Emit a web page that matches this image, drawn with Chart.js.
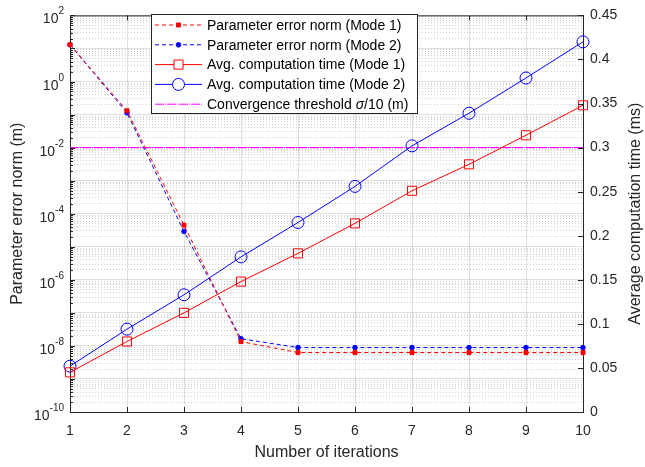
<!DOCTYPE html>
<html>
<head>
<meta charset="utf-8">
<script src="https://cdn.jsdelivr.net/npm/chart.js@4/dist/chart.umd.min.js"></script>
<style>
  body { margin: 0; background: #fff; }
  #wrap { width: 645px; height: 467px; }
</style>
</head>
<body>
<div id="wrap"><canvas id="chart-1"></canvas></div>
<script>
// data
const iterations = [1, 2, 3, 4, 5, 6, 7, 8, 9, 10];
const errMode1 = [13, 0.13, 4.5e-5, 1.35e-8, 6.3e-9, 6.3e-9, 6.3e-9, 6.3e-9, 6.3e-9, 6.3e-9];
const errMode2 = [13, 0.113, 2.9e-5, 1.65e-8, 8.9e-9, 8.9e-9, 8.9e-9, 8.9e-9, 8.9e-9, 8.9e-9];
const timeMode1 = [0.045, 0.080, 0.1125, 0.148, 0.180, 0.214, 0.251, 0.281, 0.314, 0.348];
const timeMode2 = [0.052, 0.094, 0.133, 0.176, 0.215, 0.256, 0.302, 0.339, 0.379, 0.42];
const threshold = 0.01;

const leftExponents = [-10, -8, -6, -4, -2, 0, 2];
const rightTicks = [0, 0.05, 0.1, 0.15, 0.2, 0.25, 0.3, 0.35, 0.4, 0.45];
const legendLabels = [
    'Parameter error norm (Mode 1)',
    'Parameter error norm (Mode 2)',
    'Avg. computation time (Mode 1)',
    'Avg. computation time (Mode 2)',
    'Convergence threshold \u03c3/10 (m)'
];

const FONT = '"Liberation Sans", Arial, sans-serif';
const AXIS = '#262626';

function pts(ys) {
    return iterations.map((x, i) => ({x: x, y: ys[i]}));
}

// every decade plus 2..9 minor values for the log grid
const logTickValues = [];
for (let e = -10; e <= 2; e++) {
    for (let m = 1; m <= 9; m++) {
        if (e === 2 && m > 1) break;
        logTickValues.push(Number((m * Math.pow(10, e)).toPrecision(3)));
    }
}
function isDecade(v) {
    const l = Math.log10(v);
    return Math.abs(l - Math.round(l)) < 1e-6;
}

const extras = {
    id: 'extras',
    afterDraw(chart) {
        const c = chart.ctx;
        const a = chart.chartArea;
        const y = chart.scales.y, y1 = chart.scales.y1, x = chart.scales.x;
        c.save();

        // box top line + inward ticks
        c.strokeStyle = AXIS;
        c.lineWidth = 1;
        c.beginPath();
        c.moveTo(a.left, a.top + 0.5);
        c.lineTo(a.right, a.top + 0.5);
        logTickValues.forEach(v => {
            const py = Math.round(y.getPixelForValue(v)) + 0.5;
            const len = isDecade(v) ? 5 : 3;
            c.moveTo(a.left, py);
            c.lineTo(a.left + len, py);
        });
        rightTicks.forEach(v => {
            const py = Math.round(y1.getPixelForValue(v)) + 0.5;
            c.moveTo(a.right, py);
            c.lineTo(a.right - 5, py);
        });
        iterations.forEach(v => {
            const px = Math.round(x.getPixelForValue(v)) + 0.5;
            c.moveTo(px, a.bottom);
            c.lineTo(px, a.bottom - 5);
            c.moveTo(px, a.top);
            c.lineTo(px, a.top + 5);
        });
        c.stroke();

        // left tick labels 10^n
        c.fillStyle = AXIS;
        c.textBaseline = 'alphabetic';
        leftExponents.forEach(e => {
            const py = y.getPixelForValue(Math.pow(10, e));
            const exp = String(e);
            c.font = '10px ' + FONT;
            const ew = c.measureText(exp).width;
            c.font = '14px ' + FONT;
            const bw = c.measureText('10').width;
            const right = a.left - 6;
            c.textAlign = 'left';
            c.fillText('10', right - ew - bw, py + 8);
            c.font = '10px ' + FONT;
            c.fillText(exp, right - ew, py - 1);
        });

        // right axis title, reading bottom to top
        c.font = '16px ' + FONT;
        c.textAlign = 'center';
        c.textBaseline = 'middle';
        c.translate(636, (a.top + a.bottom) / 2);
        c.rotate(-Math.PI / 2);
        c.fillText('Average computation time (ms)', 0, 0);
        c.restore();

        // legend
        c.save();
        const lx = 151, ly = 14, lw = 266, lh = 99;
        c.fillStyle = '#fff';
        c.fillRect(lx, ly, lw, lh);
        c.strokeStyle = AXIS;
        c.lineWidth = 1;
        c.strokeRect(lx + 0.5, ly + 0.5, lw, lh);
        chart.data.datasets.forEach((ds, i) => {
            const ry = 25 + i * 19.8;
            c.strokeStyle = ds.borderColor;
            c.lineWidth = 1;
            c.setLineDash(ds.borderDash || []);
            c.beginPath();
            c.moveTo(155, ry);
            c.lineTo(202, ry);
            c.stroke();
            c.setLineDash([]);
            if (ds.pointRadius > 0) {
                const r = ds.pointRadius;
                c.strokeStyle = ds.pointBorderColor;
                c.beginPath();
                if (ds.pointStyle === 'rect') {
                    const s = Math.SQRT1_2 * r;
                    c.rect(178.5 - s, ry - s, 2 * s, 2 * s);
                } else {
                    c.arc(178.5, ry, r, 0, Math.PI * 2);
                }
                c.fillStyle = ds.pointBackgroundColor === 'rgba(0,0,0,0)' ? '#fff' : ds.pointBackgroundColor;
                c.fill();
                c.stroke();
            }
            c.fillStyle = '#000';
            c.font = '14px ' + FONT;
            c.textAlign = 'left';
            c.textBaseline = 'middle';
            const parts = legendLabels[i].split('\u03c3');
            let tx = 207;
            c.fillText(parts[0], tx, ry + 1);
            if (parts.length > 1) {
                tx += c.measureText(parts[0]).width;
                c.font = 'italic 14px ' + FONT;
                c.fillText('\u03c3', tx, ry + 1);
                tx += c.measureText('\u03c3').width;
                c.font = '14px ' + FONT;
                c.fillText(parts[1], tx, ry + 1);
            }
        });
        c.restore();
    }
};

const ctx1 = document.getElementById('chart-1').getContext('2d');
const myChart = new Chart(ctx1, {
    type: 'line',
    data: {
        datasets: [
            {
                data: pts(errMode1),
                yAxisID: 'y',
                borderColor: '#ff0000',
                borderWidth: 1,
                borderDash: [4, 3],
                pointStyle: 'rect',
                pointRadius: 2.8,
                pointBackgroundColor: '#ff0000',
                pointBorderColor: '#ff0000',
                pointBorderWidth: 1
            },
            {
                data: pts(errMode2),
                yAxisID: 'y',
                borderColor: '#0000ff',
                borderWidth: 1,
                borderDash: [4, 3],
                pointStyle: 'circle',
                pointRadius: 2.3,
                pointBackgroundColor: '#0000ff',
                pointBorderColor: '#0000ff',
                pointBorderWidth: 1
            },
            {
                data: pts(timeMode1),
                yAxisID: 'y1',
                borderColor: '#ff0000',
                borderWidth: 1,
                pointStyle: 'rect',
                pointRadius: 6.4,
                pointBackgroundColor: 'rgba(0,0,0,0)',
                pointBorderColor: '#ff0000',
                pointBorderWidth: 1
            },
            {
                data: pts(timeMode2),
                yAxisID: 'y1',
                borderColor: '#0000ff',
                borderWidth: 1,
                pointStyle: 'circle',
                pointRadius: 6,
                pointBackgroundColor: 'rgba(0,0,0,0)',
                pointBorderColor: '#0000ff',
                pointBorderWidth: 1
            },
            {
                data: [{x: iterations[0], y: threshold}, {x: iterations[iterations.length - 1], y: threshold}],
                yAxisID: 'y',
                borderColor: '#ff00ff',
                borderWidth: 1.3,
                borderDash: [9, 1, 1, 1],
                pointRadius: 0
            }
        ]
    },
    options: {
        responsive: true,
        maintainAspectRatio: false,
        animation: false,
        layout: { padding: { top: 8, left: 0, right: 0, bottom: 0 } },
        elements: { line: { tension: 0 } },
        datasets: { line: { clip: false } },
        plugins: { legend: { display: false }, tooltip: { enabled: false } },
        scales: {
            x: {
                type: 'linear',
                min: 1,
                max: 10,
                afterBuildTicks: s => { s.ticks = iterations.map(v => ({value: v})); },
                afterFit: s => { s.height = 55; },
                ticks: { font: { family: FONT, size: 14 }, color: AXIS, padding: 11 },
                grid: { color: 'rgba(38,38,38,0.15)', drawTicks: false },
                border: { color: AXIS, width: 1 },
                title: { display: true, text: 'Number of iterations', color: AXIS,
                         font: { family: FONT, size: 16 }, padding: { top: 0, bottom: 5 } }
            },
            y: {
                type: 'logarithmic',
                position: 'left',
                min: 1e-10,
                max: 1e2,
                afterBuildTicks: s => { s.ticks = logTickValues.map(v => ({value: v, major: isDecade(v)})); },
                afterFit: s => { s.width = 70; },
                ticks: { display: false },
                grid: {
                    drawTicks: false,
                    color: c => (c.tick && isDecade(c.tick.value)) ? 'rgba(38,38,38,0.15)' : 'rgba(38,38,38,0.22)'
                },
                border: {
                    color: AXIS,
                    width: 1,
                    dash: c => (c.tick && isDecade(c.tick.value)) ? [] : [1, 2]
                },
                title: { display: true, text: 'Parameter error norm (m)', color: AXIS,
                         font: { family: FONT, size: 16 }, padding: { top: 8, bottom: 0 } }
            },
            y1: {
                type: 'linear',
                position: 'right',
                min: 0,
                max: 0.45,
                afterBuildTicks: s => { s.ticks = rightTicks.map(v => ({value: v})); },
                afterFit: s => { s.width = 62; },
                ticks: {
                    font: { family: FONT, size: 14 },
                    color: AXIS,
                    padding: 7,
                    callback: v => String(Number(v.toFixed(2)))
                },
                grid: { display: false, drawTicks: false },
                border: { color: AXIS, width: 1 }
            }
        }
    },
    plugins: [extras]
});
</script>
</body>
</html>
